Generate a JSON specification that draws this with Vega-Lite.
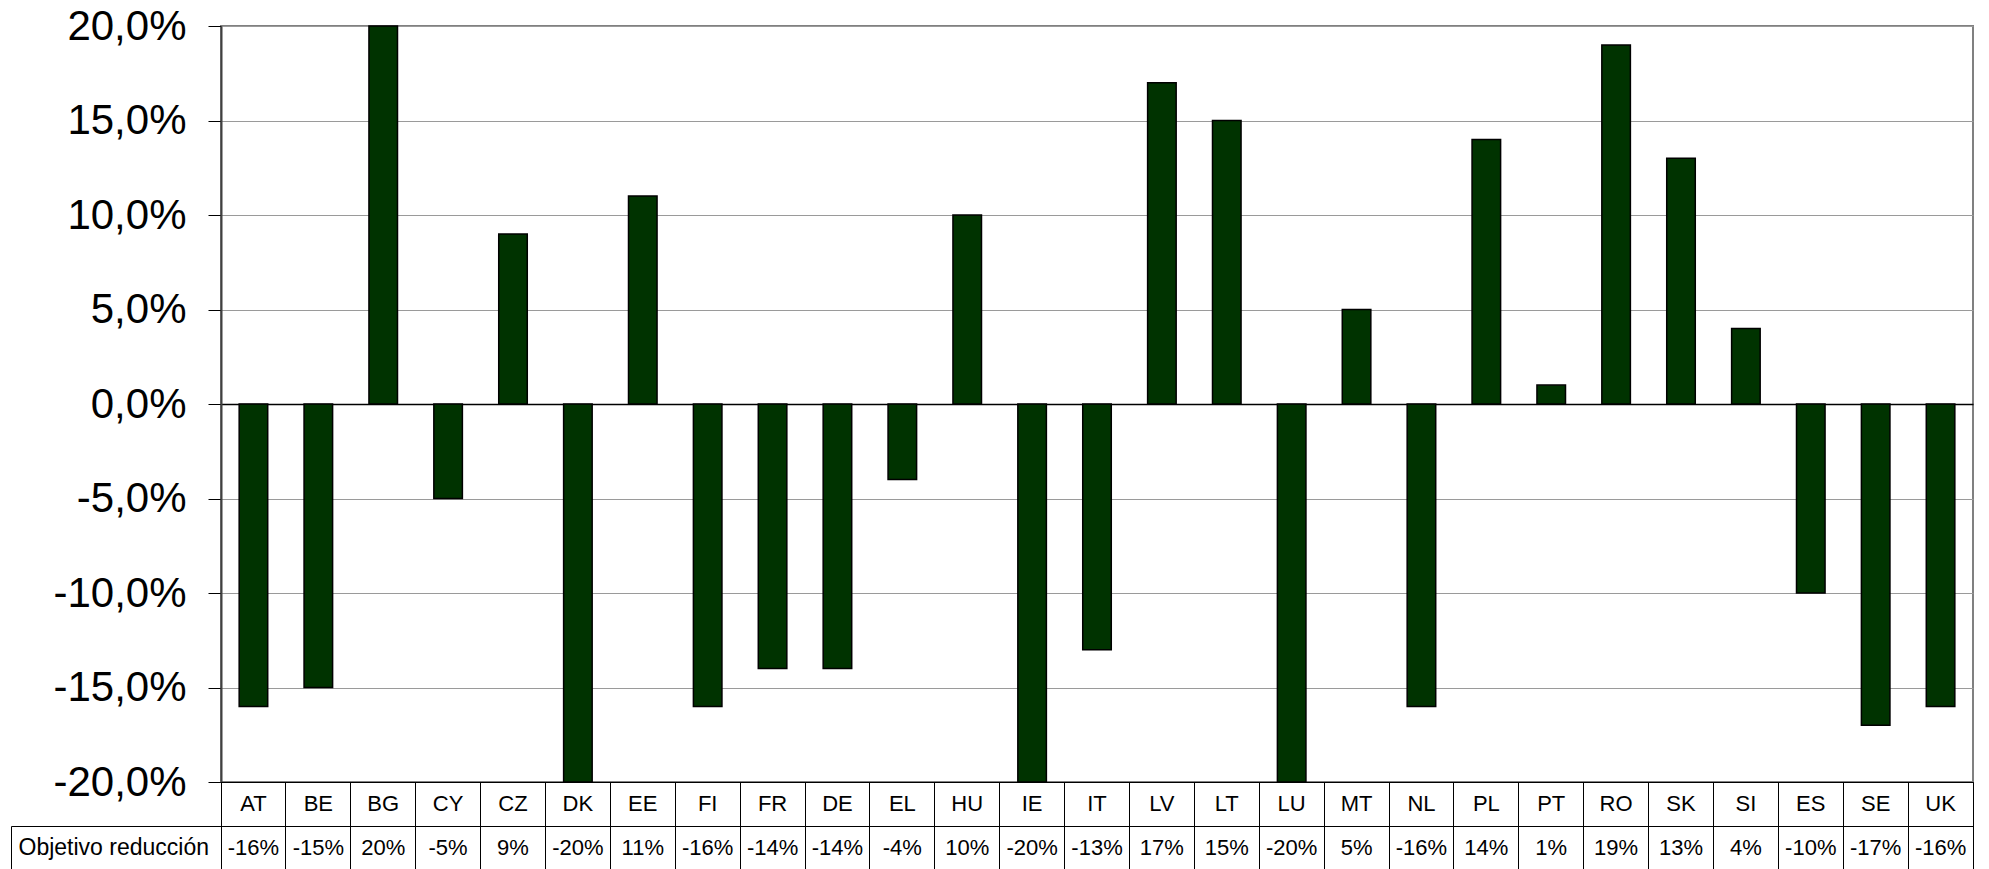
{
  "$schema": "https://vega.github.io/schema/vega-lite/v6.json",
  "background": "white",
  "padding": {"left": 10, "top": 4, "right": 0, "bottom": 0},
  "config": {
    "locale": {"number": {"decimal": ",", "thousands": ".", "grouping": [3], "currency": ["", " €"], "minus": "-"}},
    "font": "Liberation Sans",
    "axis": {"labelFont": "Liberation Sans", "labelColor": "black", "titleFont": "Liberation Sans"},
    "text": {"font": "Liberation Sans"}
  },
  "datasets": {
    "rows": [
      {"country": "AT", "value": -0.16}, {"country": "BE", "value": -0.15}, {"country": "BG", "value": 0.20},
      {"country": "CY", "value": -0.05}, {"country": "CZ", "value": 0.09}, {"country": "DK", "value": -0.20},
      {"country": "EE", "value": 0.11}, {"country": "FI", "value": -0.16}, {"country": "FR", "value": -0.14},
      {"country": "DE", "value": -0.14}, {"country": "EL", "value": -0.04}, {"country": "HU", "value": 0.10},
      {"country": "IE", "value": -0.20}, {"country": "IT", "value": -0.13}, {"country": "LV", "value": 0.17},
      {"country": "LT", "value": 0.15}, {"country": "LU", "value": -0.20}, {"country": "MT", "value": 0.05},
      {"country": "NL", "value": -0.16}, {"country": "PL", "value": 0.14}, {"country": "PT", "value": 0.01},
      {"country": "RO", "value": 0.19}, {"country": "SK", "value": 0.13}, {"country": "SI", "value": 0.04},
      {"country": "ES", "value": -0.10}, {"country": "SE", "value": -0.17}, {"country": "UK", "value": -0.16}
    ]
  },
  "spacing": 0,
  "bounds": "flush",
  "vconcat": [
    {
      "width": 1752,
      "height": 756,
      "data": {"name": "rows"},
      "view": {"stroke": "#808080", "strokeWidth": 2},
      "mark": {"type": "bar", "fill": "#003300", "stroke": "black", "strokeWidth": 1.5, "width": {"band": 0.44}},
      "encoding": {
        "x": {"field": "country", "type": "nominal", "sort": null,
              "scale": {"type": "band", "paddingInner": 0, "paddingOuter": 0}, "axis": null},
        "y": {"field": "value", "type": "quantitative",
              "scale": {"domain": [-0.2, 0.2], "nice": false, "zero": false},
              "axis": {
                "title": null,
                "values": [-0.2, -0.15, -0.1, -0.05, 0, 0.05, 0.1, 0.15, 0.2],
                "format": ".1%",
                "labelFontSize": 42,
                "labelPadding": 22,
                "tickSize": 13,
                "tickColor": "black",
                "tickWidth": 1,
                "domainColor": "#404040",
                "domainWidth": 2,
                "grid": true,
                "gridColor": {"condition": {"test": "datum.value === 0", "value": "black"}, "value": "#9a9a9a"},
                "gridWidth": {"condition": {"test": "datum.value === 0", "value": 1.5}, "value": 1},
                "gridOpacity": 1
              }}
      }
    },
    {
      "width": 1752,
      "height": 88,
      "data": {"name": "rows"},
      "view": {"stroke": "black", "strokeWidth": 1},
      "encoding": {
        "x": {"field": "country", "type": "nominal", "sort": null,
              "scale": {"type": "band", "paddingInner": 0, "paddingOuter": 0},
              "axis": {"title": null, "labels": false, "ticks": false, "domain": false,
                       "grid": true, "bandPosition": 0, "gridColor": "black", "gridWidth": 1, "gridOpacity": 1}}
      },
      "layer": [
        {
          "mark": {"type": "text", "fontSize": 22, "color": "black"},
          "encoding": {
            "y": {"datum": "c", "type": "nominal",
                  "scale": {"type": "band", "domain": ["c", "r"], "paddingInner": 0, "paddingOuter": 0},
                  "axis": {
                    "title": null,
                    "labelExpr": "datum.value === 'r' ? 'Objetivo reducción' : ''",
                    "labelFontSize": 23,
                    "labelLimit": 0,
                    "labelAlign": "left",
                    "labelBaseline": "middle",
                    "labelPadding": -7,
                    "labelOffset": 0,
                    "bandPosition": 0,
                    "tickSize": 210,
                    "tickColor": {"condition": {"test": "datum.value === 'c'", "value": "transparent"}, "value": "black"},
                    "tickWidth": 1,
                    "domain": false,
                    "grid": true,
                    "gridColor": "black",
                    "gridWidth": 1,
                    "gridOpacity": 1
                  }},
            "text": {"field": "country", "type": "nominal"}
          }
        },
        {
          "mark": {"type": "text", "fontSize": 22, "color": "black"},
          "encoding": {
            "y": {"datum": "r", "type": "nominal",
                  "scale": {"type": "band", "domain": ["c", "r"], "paddingInner": 0, "paddingOuter": 0},
                  "axis": {
                    "title": null,
                    "orient": "left",
                    "offset": 210,
                    "labels": false,
                    "ticks": false,
                    "grid": false,
                    "domain": true,
                    "domainColor": "black",
                    "domainWidth": 1,
                    "domainDash": [44, 44],
                    "domainDashOffset": 44
                  }},
            "text": {"field": "value", "type": "quantitative", "format": ".0%"}
          }
        }
      ],
      "resolve": {"axis": {"y": "independent"}}
    }
  ]
}
